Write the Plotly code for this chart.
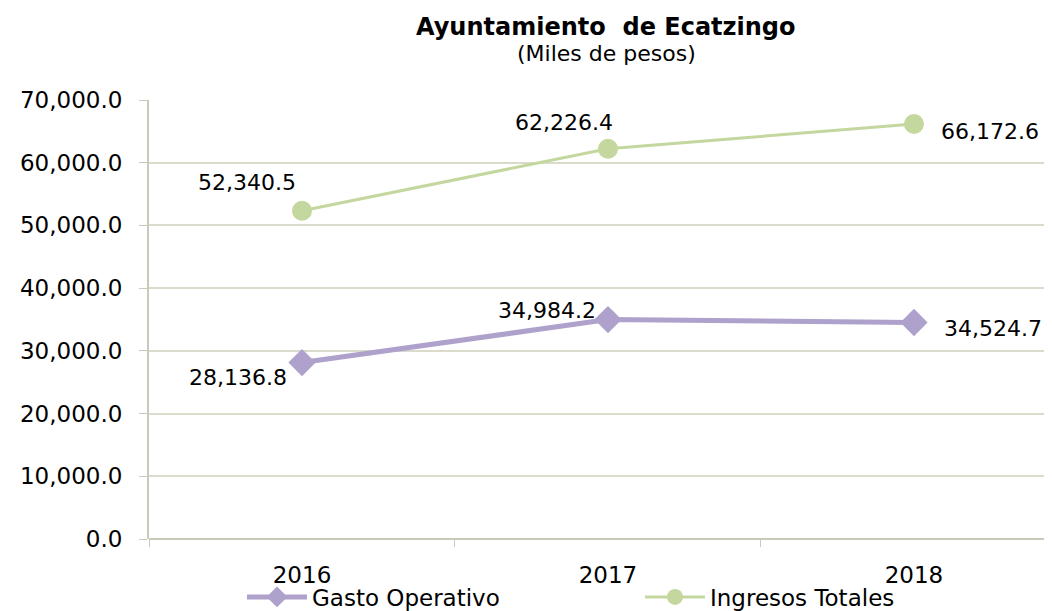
import plotly.graph_objects as go

years = ["2016", "2017", "2018"]
gasto = [28136.8, 34984.2, 34524.7]
ingresos = [52340.5, 62226.4, 66172.6]
y_ticks = [0, 10000, 20000, 30000, 40000, 50000, 60000, 70000]

FONT = "DejaVu Sans, Arial, sans-serif"
FS = 23
x = list(range(len(years)))

# page has an 8px body margin: figure is drawn 8px shifted, so size it accordingly
W, H = 1044, 603
PL, PT, PW, PH = 141, 92, 899, 439   # plot area in figure pixels


def px(xp):
    return (xp - 8 - PL) / PW


def py(yp):
    return (PT + PH - (yp - 8)) / PH


PURPLE = "#AEA1CB"
GREEN = "#C4D79E"

fig = go.Figure()
fig.add_trace(go.Scatter(
    x=x, y=gasto, name="Gasto Operativo", mode="lines+markers",
    line=dict(color=PURPLE, width=5),
    marker=dict(symbol="diamond", size=21, color=PURPLE),
    legend="legend",
))
fig.add_trace(go.Scatter(
    x=x, y=ingresos, name="Ingresos Totales", mode="lines+markers",
    line=dict(color=GREEN, width=3),
    marker=dict(symbol="circle", size=20, color=GREEN),
    legend="legend2",
))


def fmt(v):
    return f"{v:,.1f}"


# label offsets (pixels) per point
g_off = [(-64, -15), (-61, 9), (79, -6)]
i_off = [(-55, 28), (-44, 26), (76, -7)]
for i, v in enumerate(gasto):
    fig.add_annotation(x=x[i], y=v, text=fmt(v), showarrow=False,
                       xshift=g_off[i][0], yshift=g_off[i][1],
                       font=dict(size=FS - 1, color="#000", family=FONT))
for i, v in enumerate(ingresos):
    fig.add_annotation(x=x[i], y=v, text=fmt(v), showarrow=False,
                       xshift=i_off[i][0], yshift=i_off[i][1],
                       font=dict(size=FS - 1, color="#000", family=FONT))

# title and subtitle
fig.add_annotation(xref="paper", yref="paper", x=px(606), y=py(27),
                   text="<b>Ayuntamiento  de Ecatzingo</b>", showarrow=False,
                   xanchor="center", yanchor="middle",
                   font=dict(size=FS + 1, family=FONT, color="#000"))
fig.add_annotation(xref="paper", yref="paper", x=px(606), y=py(53),
                   text="(Miles de pesos)", showarrow=False,
                   xanchor="center", yanchor="middle",
                   font=dict(size=FS - 1, family=FONT, color="#000"))

leg_common = dict(orientation="h", yanchor="middle", y=py(597),
                  font=dict(size=FS, family=FONT, color="#000"),
                  itemwidth=60, bgcolor="rgba(0,0,0,0)", borderwidth=0)

fig.update_layout(
    width=W, height=H,
    margin=dict(l=PL, r=W - PL - PW, t=PT, b=H - PT - PH, autoexpand=False),
    paper_bgcolor="white", plot_bgcolor="white",
    font=dict(family=FONT, size=FS, color="#000"),
    showlegend=True,
    legend=dict(x=px(242), xanchor="left", **leg_common),
    legend2=dict(x=px(640), xanchor="left", **leg_common),
    xaxis=dict(
        range=[-0.5, 2.438], tickvals=x, ticktext=years,
        showgrid=False, zeroline=False, showline=False, ticks="",
        ticklabelstandoff=20, automargin=False,
        tickfont=dict(size=FS, family=FONT, color="#000"),
        minor=dict(tick0=-0.5, dtick=1, ticks="outside", ticklen=7,
                   tickcolor="#C9CBBA", showgrid=False),
    ),
    yaxis=dict(
        range=[0, 70000], tickvals=y_ticks,
        ticktext=[fmt(v) for v in y_ticks], automargin=False,
        showgrid=True, gridcolor="#DADBCB", gridwidth=2,
        zeroline=True, zerolinecolor="#C9CBBA", zerolinewidth=2,
        showline=True, linecolor="#C9CBBA", linewidth=2,
        ticks="outside", ticklen=8, tickcolor="#C9CBBA",
        ticklabelstandoff=12,
        tickfont=dict(size=FS, family=FONT, color="#000"),
    ),
)

fig.write_html("out.html")
